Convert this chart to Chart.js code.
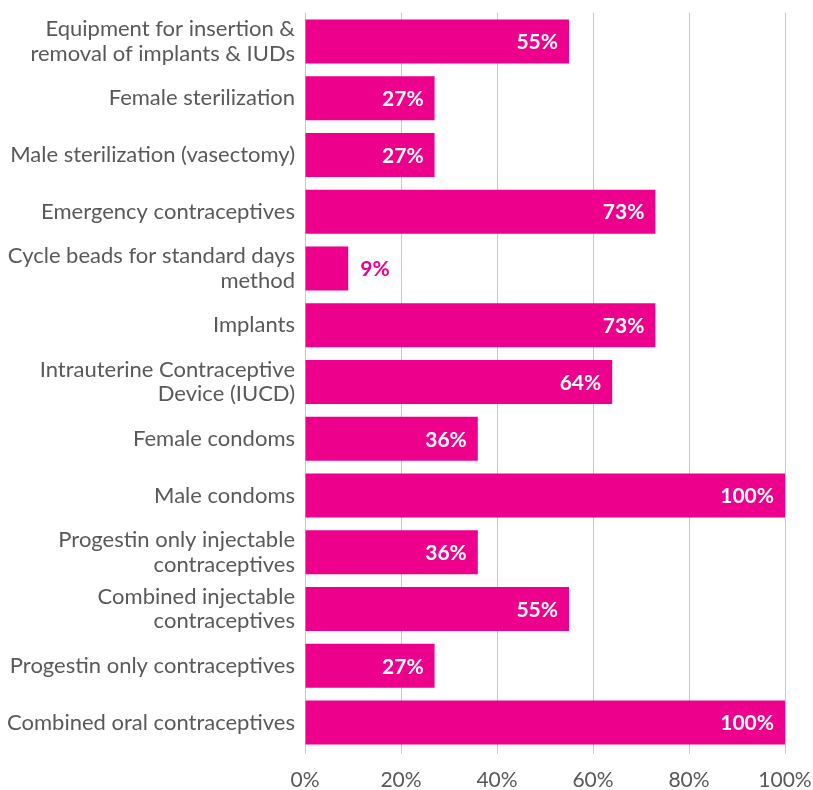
<!DOCTYPE html>
<html>
<head>
<meta charset="utf-8">
<script src="https://cdn.jsdelivr.net/npm/chart.js@4"></script>
<style>
html,body{margin:0;padding:0;background:#fff;}
#wrap{width:813px;height:790px;position:relative;}
</style>
</head>
<body>
<div id="wrap"><canvas id="c"></canvas></div>
<script>
const categories = [
  ["Equipment for insertion &", "removal of implants & IUDs"],
  "Female sterilization",
  "Male sterilization (vasectomy)",
  "Emergency contraceptives",
  ["Cycle beads for standard days", "method"],
  "Implants",
  ["Intrauterine Contraceptive", "Device (IUCD)"],
  "Female condoms",
  "Male condoms",
  ["Progestin only injectable", "contraceptives"],
  ["Combined injectable", "contraceptives"],
  "Progestin only contraceptives",
  "Combined oral contraceptives"
];
const values = [55, 27, 27, 73, 9, 73, 64, 36, 100, 36, 55, 27, 100];
const tickValues = [0, 20, 40, 60, 80, 100];

const PINK = '#EC008C';
const FONT = 'Lato, "Open Sans", sans-serif';

const labelPlugin = {
  id: 'barLabels',
  afterDatasetsDraw(chart) {
    const ctx = chart.ctx;
    const meta = chart.getDatasetMeta(0);
    ctx.save();
    ctx.font = 'bold 21px ' + FONT;
    ctx.textBaseline = 'middle';
    meta.data.forEach((bar, i) => {
      const txt = values[i] + '%';
      const w = ctx.measureText(txt).width;
      const barLen = bar.x - bar.base;
      if (barLen > w + 20) {
        ctx.fillStyle = '#ffffff';
        ctx.textAlign = 'right';
        ctx.fillText(txt, bar.x - 11, bar.y + 1);
      } else {
        ctx.fillStyle = PINK;
        ctx.textAlign = 'left';
        ctx.fillText(txt, bar.x + 12, bar.y + 1);
      }
    });
    ctx.restore();
  }
};

new Chart(document.getElementById('c'), {
  type: 'bar',
  data: {
    labels: categories,
    datasets: [{
      data: values,
      backgroundColor: PINK,
      borderWidth: 0,
      barPercentage: 0.775,
      categoryPercentage: 1
    }]
  },
  options: {
    indexAxis: 'y',
    responsive: true,
    maintainAspectRatio: false,
    animation: false,
    layout: { padding: { top: 13, right: 28, left: 0, bottom: 0 } },
    plugins: { legend: { display: false }, tooltip: { enabled: false } },
    scales: {
      x: {
        min: 0, max: 100,
        afterBuildTicks(scale) { scale.ticks = tickValues.map(v => ({ value: v })); },
        afterFit(scale) {
          scale.height = 39;
          scale.paddingLeft = 0; scale.paddingRight = 0;
          scale.paddingTop = 0; scale.paddingBottom = 0;
        },
        grid: { color: '#c8c8c8', lineWidth: 1, drawTicks: true, tickLength: 3 },
        border: { display: false },
        ticks: {
          padding: 14,
          color: '#595959',
          font: { family: FONT, size: 21 },
          callback: v => v + '%'
        }
      },
      y: {
        afterFit(scale) {
          scale.width = 305;
          scale.paddingLeft = 0; scale.paddingRight = 0;
          scale.paddingTop = 0; scale.paddingBottom = 0;
        },
        grid: { display: false, drawTicks: false },
        border: { display: false },
        ticks: {
          padding: 10,
          color: '#595959',
          font: { family: FONT, size: 22, lineHeight: 1.1 },
          autoSkip: false
        }
      }
    }
  },
  plugins: [labelPlugin]
});
</script>
</body>
</html>
